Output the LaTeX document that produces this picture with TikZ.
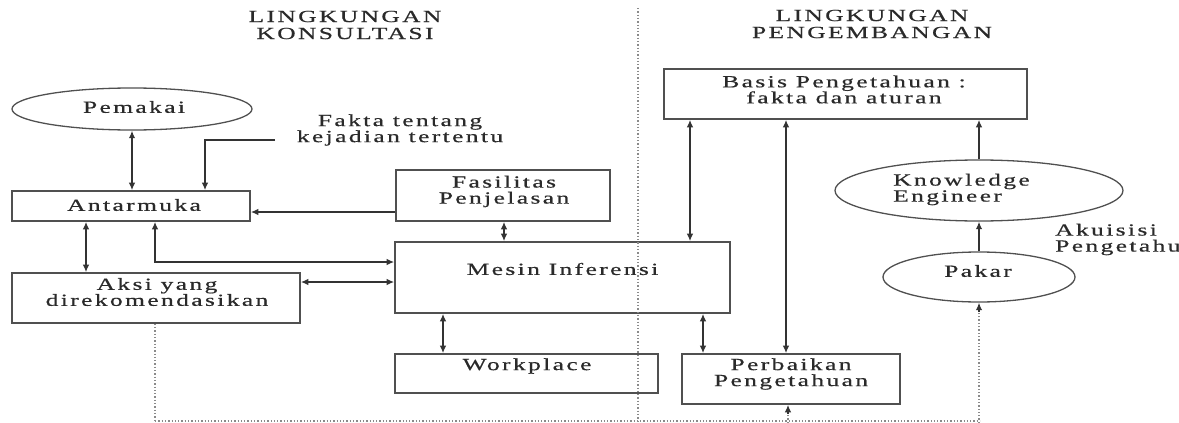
\documentclass[tikz,border=0pt]{standalone}
\usepackage{fontspec}
\newfontfamily\dfont[FakeStretch=1.5,LetterSpace=14,FakeBold=0.6]{Liberation Serif}
\usetikzlibrary{shapes.geometric,arrows.meta}
\definecolor{boxc}{HTML}{505050}
\definecolor{linec}{HTML}{333333}
\definecolor{txtc}{HTML}{2A2A2A}
\definecolor{dotc}{HTML}{8A8A8A}
\begin{document}
\begin{tikzpicture}[x=1pt,y=-1pt,
  box/.style={draw=boxc, line width=1.6pt, rectangle, inner sep=0pt},
  oval/.style={draw=boxc, line width=1.3pt, ellipse, inner sep=0pt},
  txt/.style={font=\dfont\fontsize{17}{16}\selectfont, text=txtc, align=center, inner sep=0pt},
  title/.style={txt, font=\dfont\fontsize{17}{17}\selectfont},
  link/.style={draw=linec, line width=1.4pt},
  both/.style={link, {Latex[length=7.5pt,width=6.5pt]}-{Latex[length=7.5pt,width=6.5pt]}},
  fwd/.style={link, -{Latex[length=7.5pt,width=6.5pt]}},
  dots/.style={draw=dotc, line width=1.3pt, dotted}
]
\useasboundingbox (0,0) rectangle (1179,423);
% titles
\node[title] (t1) at (345,25) {LINGKUNGAN\\KONSULTASI};
\node[title] (t2) at (872,24) {LINGKUNGAN\\PENGEMBANGAN};
% boxes and ovals
\node[oval, minimum width=240, minimum height=42] (pemakai) at (132,109) {};
\node[txt] (pemakaiT) at (134,107) {Pemakai};
\node[box, minimum width=238, minimum height=30] (antarmuka) at (131,206) {};
\node[txt] (antarmukaT) at (134,205) {Antarmuka};
\node[box, minimum width=288, minimum height=50] (aksi) at (156,298) {};
\node[txt] (aksiT) at (157,292) {Aksi yang\\direkomendasikan};
\node[box, minimum width=214, minimum height=51] (fasilitas) at (503,195.5) {};
\node[txt] (fasilitasT) at (504,191.5) {Fasilitas\\Penjelasan};
\node[box, minimum width=335, minimum height=71] (mesin) at (562.5,277.5) {};
\node[txt] (mesinT) at (562.5,269) {Mesin Inferensi};
\node[box, minimum width=263, minimum height=39] (workplace) at (526.5,373.5) {};
\node[txt] (workplaceT) at (527,366) {Workplace};
\node[box, minimum width=218, minimum height=50] (perbaikan) at (791,379) {};
\node[txt] (perbaikanT) at (791,374) {Perbaikan\\Pengetahuan};
\node[box, minimum width=363, minimum height=50] (basis) at (845.5,94) {};
\node[txt] (basisT) at (844,89.5) {Basis Pengetahuan :\\fakta dan aturan};
\node[oval, minimum width=288, minimum height=61] (ke) at (979,190.5) {};
\node[txt, align=left, anchor=west] (keT) at (893,189.5) {Knowledge\\Engineer};
\node[oval, minimum width=192, minimum height=50] (pakar) at (979,277) {};
\node[txt] (pakarT) at (978,271) {Pakar};
\node[txt, align=left, anchor=west] (akuisisi) at (1055,239.5) {Akuisisi\\Pengetahuan};
\node[txt] (fakta) at (400,130) {Fakta tentang\\kejadian tertentu};
% free ends
\coordinate (fk) at (275,140);
\coordinate (divtop) at (638,8);
\coordinate (divbot) at (638,423);
\coordinate (b1) at (155,421);
\coordinate (b2) at (980,421);
\coordinate (pk) at (979,423);
\coordinate (pb) at (788,423);
% connectors
\draw[both] (pemakai.south) -- (pemakai.south |- antarmuka.north);
\draw[fwd] (fk) -| ([xshift=74pt]antarmuka.north);
\draw[fwd] (fasilitas.west |- 0,212) -- (antarmuka.east |- 0,212);
\draw[both] (antarmuka.south -| 86,0) -- (aksi.north -| 86,0);
\draw[both] (mesin.west |- 0,262) -| (antarmuka.south -| 155,0);
\draw[both] (aksi.east |- 0,282) -- (mesin.west |- 0,282);
\draw[both] (fasilitas.south -| 504,0) -- (mesin.north -| 504,0);
\draw[both] (mesin.south -| 443,0) -- (workplace.north -| 443,0);
\draw[both] (mesin.south -| 703,0) -- (perbaikan.north -| 703,0);
\draw[both] (basis.south -| 690,0) -- (mesin.north -| 690,0);
\draw[both] (basis.south -| 786,0) -- (perbaikan.north -| 786,0);
\draw[fwd] (ke.north) -- (ke.north |- basis.south);
\draw[fwd] (pakar.north) -- (ke.south);
\draw[dots] (pk) -- ([yshift=-8pt]pakar.south);
\draw[fwd] ([yshift=-9pt]pakar.south) -- (pakar.south);
\draw[dots] (pb) -- ([yshift=-8pt]perbaikan.south -| pb);
\draw[fwd] ([yshift=-9pt]perbaikan.south -| pb) -- (perbaikan.south -| pb);
\draw[dots] (aksi.south -| b1) -- (b1);
\draw[dots] (b1) -- (b2);
\draw[dots] (divtop) -- (divbot);
\end{tikzpicture}
\end{document}
